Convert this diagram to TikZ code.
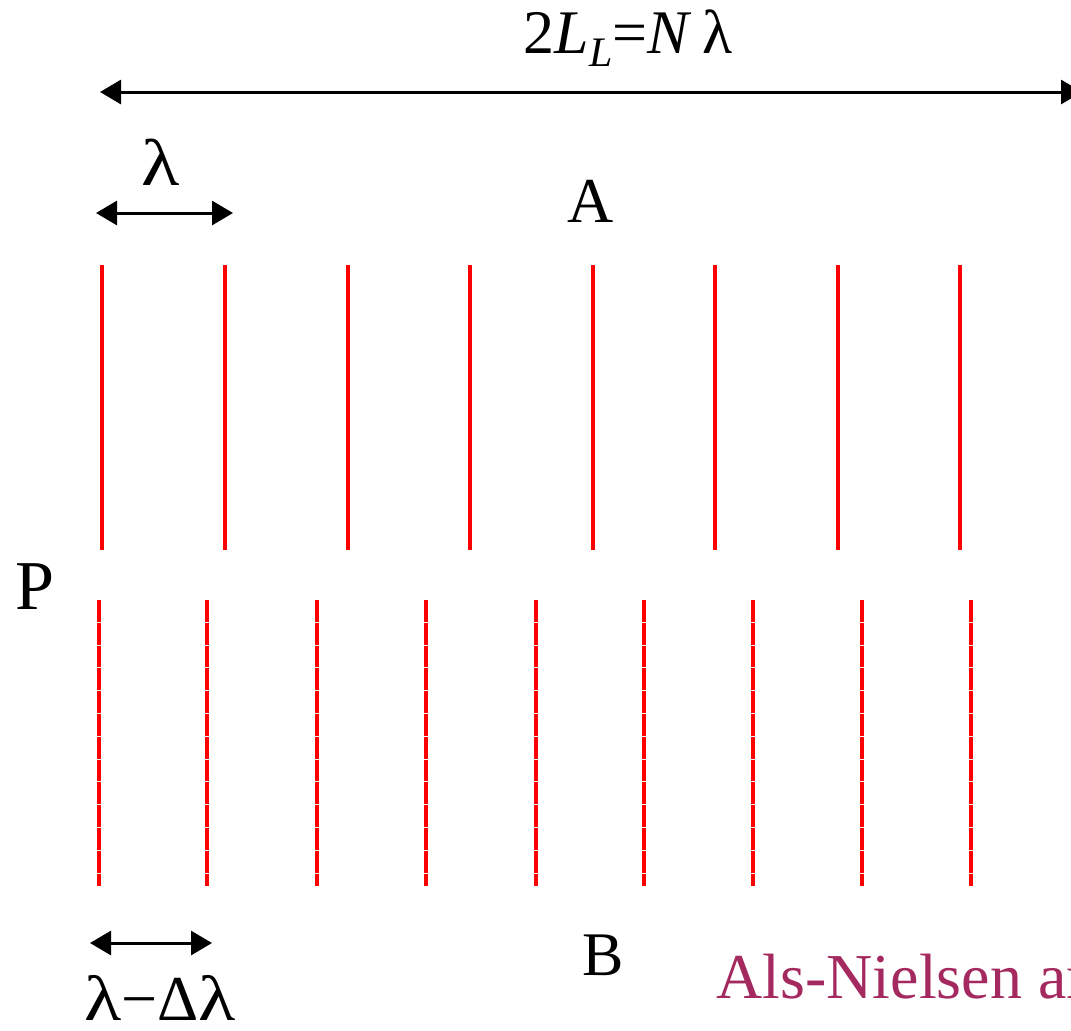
\documentclass[tikz,border=0pt]{standalone}
\usepackage{fontspec}
\setmainfont{Liberation Serif}
\usetikzlibrary{arrows.meta}
\definecolor{maroon}{HTML}{A3295F}
\newcommand{\wlam}{\scalebox{1.2}[1]{λ}}
\begin{document}
\begin{tikzpicture}[x=0.5pt,y=-0.5pt,
  dim/.style={line width=1.5pt,{Triangle[length=10.5pt,width=12pt]}-{Triangle[length=10.5pt,width=12pt]}},
  solidwave/.style={red,line width=1.6pt},
  dashwave/.style={red,line width=1.6pt,dash pattern=on 10.9pt off 0.5pt},
  lab/.style={font=\fontsize{31}{36}\selectfont,inner sep=0pt}]
\useasboundingbox (0,0) rectangle (1071,1030);
\begin{scope}
\clip (0,0) rectangle (1071,1030);
% top dimension
\coordinate (tl) at (100,92);
\coordinate (tr) at (1082,92);
\draw[dim] (tl) -- (tr);
\node[lab] (tlab) at (628,38) {2\textit{L}\raisebox{-0.45ex}{\fontsize{21}{24}\selectfont\textit{L}}=\textit{N}\,λ};
% lambda dimension
\coordinate (la) at (96,213);
\coordinate (lb) at (233,213);
\draw[dim] (la) -- (lb);
\node[lab,font=\fontsize{33}{38}\selectfont] (llab) at (161,162) {\wlam};
\node[lab,font=\fontsize{32}{38}\selectfont] (A) at (591,201) {A};
% solid lines
\foreach \x [count=\i] in {102,225,348,470,593,715,838,960}{
  \coordinate (s\i t) at (\x,265);
  \coordinate (s\i b) at (\x,550);
  \draw[solidwave] (s\i t) -- (s\i b);
}
\node[lab,font=\fontsize{35}{40}\selectfont] (P) at (35,587) {P};
% dashed lines
\foreach \x [count=\i] in {99,207,317,426,536,644,753,862,971}{
  \coordinate (d\i t) at (\x,600);
  \coordinate (d\i b) at (\x,886);
  \draw[dashwave] (d\i t) -- (d\i b);
}
% bottom dimension
\coordinate (ba) at (90,943);
\coordinate (bb) at (212,943);
\draw[dim] (ba) -- (bb);
\node[lab,font=\fontsize{32}{38}\selectfont] (blab) at (160,998) {\wlam−Δ\wlam};
\node[lab] (B) at (603,955) {B};
\node[lab,anchor=base west,text=maroon,font=\fontsize{32}{38}\selectfont] (cite) at (716,998) {Als-Nielsen and McMorrow};
\end{scope}
\end{tikzpicture}
\end{document}
